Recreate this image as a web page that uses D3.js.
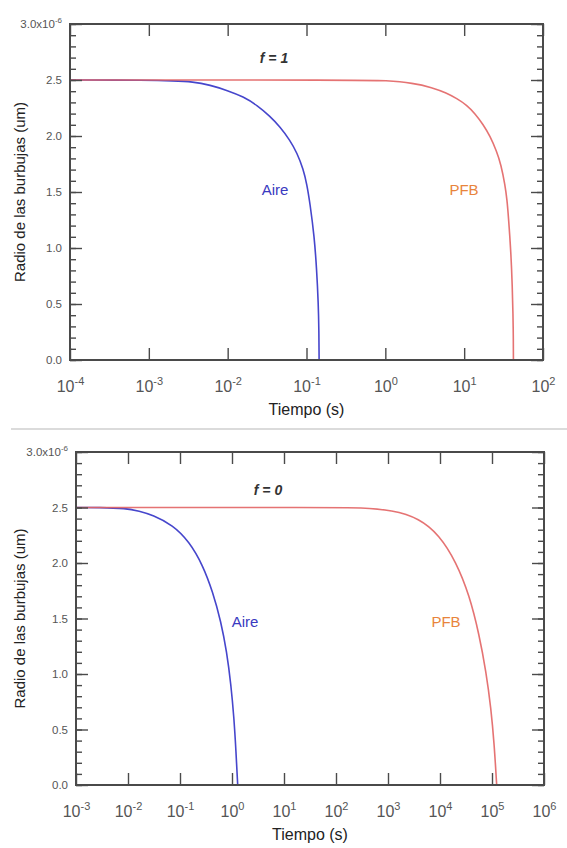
<!DOCTYPE html>
<html>
<head>
<meta charset="utf-8">
<script src="https://cdn.jsdelivr.net/npm/d3@7"></script>
<style>
  html, body { margin: 0; padding: 0; background: #fff; }
  svg { display: block; font-family: "Liberation Sans", Arial, sans-serif; }
</style>
</head>
<body>
<svg id="chart" width="567" height="848"></svg>
<script>
// ---------- data (radius in units of 1e-6 m, time in s) ----------
const yTicksMajor = [0, 0.5, 1.0, 1.5, 2.0, 2.5, 3.0];
const yTicksMinor = d3.range(0, 31).map(i => i / 10);

// Panel f = 1
const p1Decades = [-4, -3, -2, -1, 0, 1, 2];
const p1AireT = [1e-4, 1e-3, 2e-3, 0.00363, 0.00597, 0.01, 0.01578, 0.02355, 0.0344, 0.0461, 0.0617, 0.0758, 0.0911, 0.1012, 0.1107, 0.1256, 0.1347, 0.1412, 0.1437, 0.1445, 0.1445];
const p1AireR = [2.5, 2.498, 2.493, 2.485, 2.455, 2.406, 2.351, 2.275, 2.176, 2.082, 1.962, 1.849, 1.703, 1.567, 1.399, 1.101, 0.804, 0.506, 0.268, 0, 0];
const p1PfbT  = [1e-4, 0.5, 1, 2.264, 3.91, 6.0, 8.04, 10.77, 13.7, 17.49, 21.27, 25.86, 29.3, 32.96, 34.95, 36.3, 39.28, 40.79, 41.65, 42.02, 42.14, 42.14];
const p1PfbR  = [2.5, 2.5, 2.496, 2.473, 2.433, 2.384, 2.335, 2.277, 2.201, 2.101, 2.0, 1.863, 1.745, 1.565, 1.429, 1.295, 0.953, 0.654, 0.402, 0.223, 0, 0];

// Panel f = 0
const p2Decades = [-3, -2, -1, 0, 1, 2, 3, 4, 5, 6];
const p2AireT = [1e-3, 0.0028, 0.00916, 0.0163, 0.0299, 0.0724, 0.151, 0.273, 0.426, 0.614, 0.791, 0.957, 1.093, 1.194, 1.287, 1.287];
const p2AireR = [2.5, 2.5, 2.493, 2.468, 2.432, 2.342, 2.192, 1.982, 1.741, 1.471, 1.201, 0.901, 0.601, 0.300, 0, 0];
const p2PfbT  = [1e-3, 100, 281, 1230, 4000, 9700, 20300, 36600, 57000, 76700, 95700, 110700, 123000, 123000];
const p2PfbR  = [2.5, 2.5, 2.5, 2.477, 2.403, 2.252, 2.012, 1.712, 1.351, 1.021, 0.691, 0.360, 0, 0];

const panels = [
  { title: "f = 1", decades: p1Decades, aire: [p1AireT, p1AireR], pfb: [p1PfbT, p1PfbR],
    box: { l: 70, r: 543, t: 24, b: 360 }, titlePos: [274, 58],
    airePos: [275, 190], pfbPos: [464, 190] },
  { title: "f = 0", decades: p2Decades, aire: [p2AireT, p2AireR], pfb: [p2PfbT, p2PfbR],
    box: { l: 76, r: 544, t: 452, b: 785 }, titlePos: [268, 490],
    airePos: [245, 622], pfbPos: [446, 622] }
];

const axisColor = "#4a4a4a";
const labelColor = "#555";
const blue = "#4646cc";
const red = "#e26464";

const svg = d3.select("#chart");

// separator
svg.append("line").attr("x1", 11).attr("x2", 567).attr("y1", 429).attr("y2", 429)
  .attr("stroke", "#cfcfcf").attr("stroke-width", 1.5);

panels.forEach(p => {
  const { l, r, t, b } = p.box;
  const x = d3.scaleLog().domain([Math.pow(10, p.decades[0]), Math.pow(10, p.decades[p.decades.length - 1])]).range([l, r]);
  const y = d3.scaleLinear().domain([0, 3]).range([b, t]);
  const decadeVals = p.decades.map(e => Math.pow(10, e));
  const g = svg.append("g");

  // curves
  const line = d3.line().x(d => x(d[0])).y(d => y(d[1])).curve(d3.curveBasis);
  const aireData = p.aire[0].map((tv, i) => [tv, p.aire[1][i]]);
  const pfbData = p.pfb[0].map((tv, i) => [tv, p.pfb[1][i]]);
  g.append("path").datum(aireData).attr("d", line).attr("fill", "none")
    .attr("stroke", blue).attr("stroke-width", 1.6);
  g.append("path").datum(pfbData).attr("d", line).attr("fill", "none")
    .attr("stroke", red).attr("stroke-width", 1.6).attr("stroke-opacity", 0.9);

  // axes
  const styleAxis = sel => {
    sel.select(".domain").remove();
    sel.selectAll(".tick line").attr("stroke", axisColor).attr("stroke-width", 1.4);
  };
  // bottom
  const xb = g.append("g").attr("transform", `translate(0,${b})`)
    .call(d3.axisBottom(x).tickValues(decadeVals).tickSizeInner(-12).tickSizeOuter(0).tickPadding(0));
  styleAxis(xb);
  xb.selectAll(".tick text").each(function(d) {
    const e = Math.round(Math.log10(d));
    const txt = d3.select(this);
    txt.text(null).attr("y", 32).attr("dy", null).attr("fill", labelColor)
      .attr("font-size", 16).attr("text-anchor", "middle");
    txt.append("tspan").text("10");
    txt.append("tspan").text(String(e)).attr("font-size", 11).attr("dy", -7);
  });
  // top
  const xt = g.append("g").attr("transform", `translate(0,${t})`)
    .call(d3.axisTop(x).tickValues(decadeVals).tickSizeInner(-12).tickSizeOuter(0).tickFormat(""));
  styleAxis(xt);
  // left minor + major
  const yl1 = g.append("g").attr("transform", `translate(${l},0)`)
    .call(d3.axisLeft(y).tickValues(yTicksMinor).tickSizeInner(-6).tickSizeOuter(0).tickFormat(""));
  styleAxis(yl1);
  const yl2 = g.append("g").attr("transform", `translate(${l},0)`)
    .call(d3.axisLeft(y).tickValues(yTicksMajor).tickSizeInner(-12).tickSizeOuter(0).tickPadding(8));
  styleAxis(yl2);
  yl2.selectAll(".tick text").each(function(d) {
    const txt = d3.select(this);
    txt.attr("fill", labelColor).attr("font-size", 11.5);
    if (d === 3) {
      txt.text(null);
      txt.append("tspan").text("3.0x10");
      txt.append("tspan").text("-6").attr("font-size", 8).attr("dy", -5);
    } else {
      txt.text(d3.format(".1f")(d));
    }
  });
  // right minor + major
  const yr1 = g.append("g").attr("transform", `translate(${r},0)`)
    .call(d3.axisRight(y).tickValues(yTicksMinor).tickSizeInner(-6).tickSizeOuter(0).tickFormat(""));
  styleAxis(yr1);
  const yr2 = g.append("g").attr("transform", `translate(${r},0)`)
    .call(d3.axisRight(y).tickValues(yTicksMajor).tickSizeInner(-12).tickSizeOuter(0).tickFormat(""));
  styleAxis(yr2);

  // frame
  g.append("rect").attr("x", l).attr("y", t).attr("width", r - l).attr("height", b - t)
    .attr("fill", "none").attr("stroke", axisColor).attr("stroke-width", 2);

  // axis titles
  g.append("text").attr("x", (l + r) / 2).attr("y", b + 55).attr("text-anchor", "middle")
    .attr("font-size", 16).attr("fill", "#222").text("Tiempo (s)");
  g.append("text").attr("transform", `translate(25,${(t + b) / 2}) rotate(-90)`)
    .attr("text-anchor", "middle").attr("font-size", 15).attr("fill", "#222")
    .text("Radio de las burbujas (um)");

  // annotations
  g.append("text").attr("x", p.titlePos[0]).attr("y", p.titlePos[1]).attr("dy", "0.35em")
    .attr("text-anchor", "middle").attr("font-size", 14).attr("font-style", "italic")
    .attr("font-weight", "bold").attr("fill", "#333").text(p.title);
  g.append("text").attr("x", p.airePos[0]).attr("y", p.airePos[1]).attr("dy", "0.35em")
    .attr("text-anchor", "middle").attr("font-size", 15).attr("fill", "#3a3ac0").text("Aire");
  g.append("text").attr("x", p.pfbPos[0]).attr("y", p.pfbPos[1]).attr("dy", "0.35em")
    .attr("text-anchor", "middle").attr("font-size", 15).attr("fill", "#e8843c").text("PFB");
});
</script>
</body>
</html>
